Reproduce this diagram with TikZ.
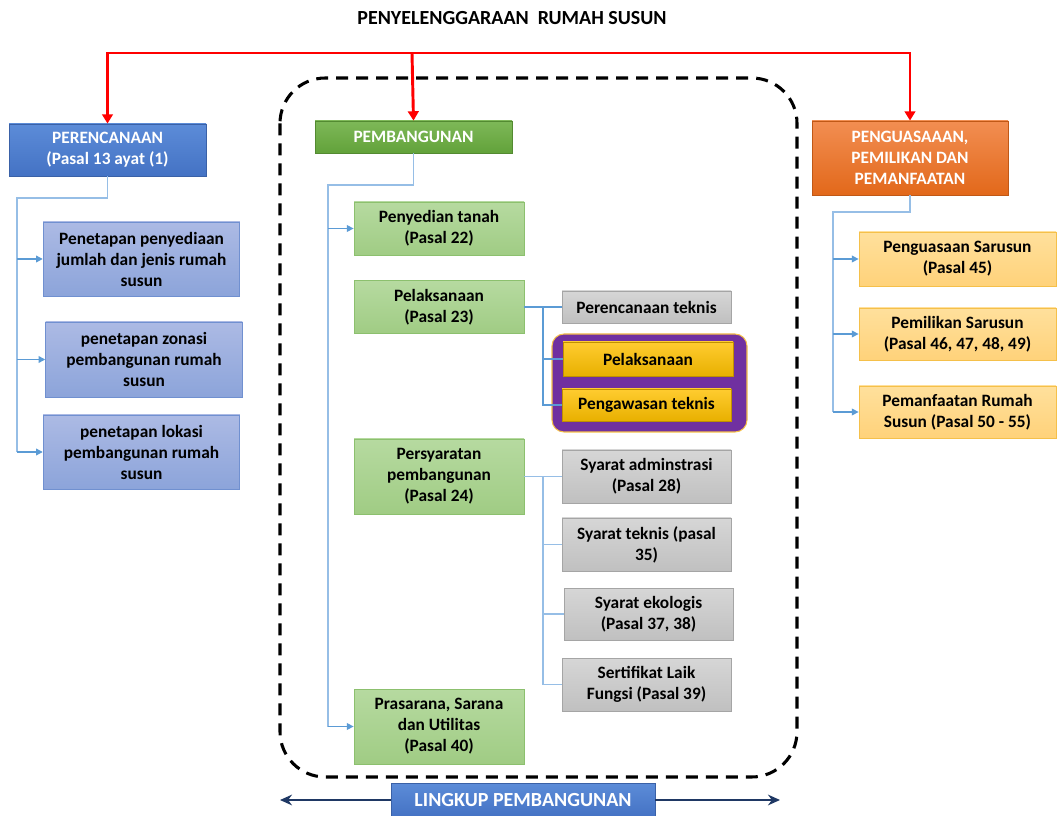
\documentclass[tikz,border=0pt]{standalone}
\usepackage{fontspec}
\setmainfont{Carlito}
\usepackage{tikz}
\usetikzlibrary{arrows.meta,positioning}
\definecolor{planBlue}{RGB}{68,114,196}
\definecolor{planBlueTop}{RGB}{92,140,216}
\definecolor{paleBlueTop}{RGB}{172,186,228}
\definecolor{paleBlueBot}{RGB}{140,164,218}
\definecolor{paleBlueLine}{RGB}{112,144,208}
\definecolor{buildGreen}{RGB}{98,162,58}
\definecolor{buildGreenTop}{RGB}{126,184,88}
\definecolor{softGreenTop}{RGB}{182,218,160}
\definecolor{softGreenBot}{RGB}{160,204,132}
\definecolor{softGreenLine}{RGB}{140,192,110}
\definecolor{greyTop}{RGB}{214,214,214}
\definecolor{greyBot}{RGB}{192,192,192}
\definecolor{greyLine}{RGB}{165,165,165}
\definecolor{goldTop}{RGB}{255,204,48}
\definecolor{goldBot}{RGB}{232,176,0}
\definecolor{goldLine}{RGB}{191,144,0}
\definecolor{boxPurple}{RGB}{112,48,160}
\definecolor{ownOrange}{RGB}{226,104,26}
\definecolor{ownOrangeTop}{RGB}{242,142,82}
\definecolor{peachTop}{RGB}{255,224,156}
\definecolor{peachBot}{RGB}{255,210,122}
\definecolor{peachLine}{RGB}{245,192,74}
\definecolor{treeBlue}{RGB}{91,155,213}
\definecolor{treeBlueLight}{RGB}{150,190,230}
\definecolor{scopeNavy}{RGB}{31,56,100}

\begin{document}
\begin{tikzpicture}[x=0.75pt,y=-0.75pt,
    font=\bfseries\fontsize{13}{15.75}\selectfont,
    box/.style={draw, align=center, inner sep=0pt, line width=0.6pt},
    headbox/.style={box, text=white, draw=#1!85!black},
    bluebox/.style={box, top color=paleBlueTop, bottom color=paleBlueBot, draw=paleBlueLine,
        minimum width=147.5pt},
    greenbox/.style={box, top color=softGreenTop, bottom color=softGreenBot, draw=softGreenLine,
        minimum width=127.5pt},
    greybox/.style={box, top color=greyTop, bottom color=greyBot, draw=greyLine,
        minimum width=126.75pt},
    goldbox/.style={box, top color=goldTop, bottom color=goldBot, draw=goldLine,
        minimum width=127.5pt},
    peachbox/.style={box, top color=peachTop, bottom color=peachBot, draw=peachLine,
        minimum width=147.75pt},
    redarrow/.style={red, line width=2.2pt, -{Triangle[width=8pt,length=7pt]}},
    tree/.style={treeBlueLight, line width=1pt},
    treearrow/.style={tree, -{Triangle[width=5pt,length=5pt]}, treeBlue},
    joint/.style={treeBlue, line width=2.2pt},
    scopearrow/.style={scopeNavy, line width=1.8pt, -{Stealth[width=8pt,length=9pt]}}]

    \useasboundingbox (0,0) rectangle (1061,816);

    % title
    \node[font=\bfseries\fontsize{15}{18}\selectfont] (title) at (512,18) {PENYELENGGARAAN~ RUMAH SUSUN};

    % scope of construction
    \draw[line width=2.3pt, dash pattern=on 9pt off 6pt, rounded corners=34pt]
        (280,78) rectangle (797,777);

    % three main headers
    \node[headbox=planBlue, top color=planBlueTop, bottom color=planBlue,
        minimum width=147.75pt, minimum height=39pt] (plan) at (107.5,150)
        {PERENCANAAN\\(Pasal 13 ayat (1)};
    \node[headbox=buildGreen, top color=buildGreenTop, bottom color=buildGreen,
        minimum width=147.75pt, minimum height=24pt] (bang) at (413.5,137) {PEMBANGUNAN};
    \node[headbox=ownOrange, top color=ownOrangeTop, bottom color=ownOrange,
        minimum width=147pt, minimum height=55.5pt] (kuasa) at (910,158)
        {PENGUASAAAN,\\PEMILIKAN DAN\\PEMANFAATAN};

    % red arrows
    \coordinate (top) at (412,53);
    \draw[redarrow] (top) -| (plan.north);
    \draw[redarrow] (top) -- (bang.north);
    \draw[redarrow] (top) -| (kuasa.north);

    % planning
    \node[bluebox, minimum height=55.5pt] (pb1) at (141.5,259)
        {Penetapan penyediaan\\jumlah dan jenis rumah\\susun};
    \node[bluebox, minimum height=56.25pt] (pb2) at (144,359.5)
        {penetapan zonasi\\pembangunan rumah\\susun};
    \node[bluebox, minimum height=55.5pt] (pb3) at (141.5,452)
        {penetapan lokasi\\pembangunan rumah\\susun};

    \coordinate (pl) at (17,198);
    \draw[tree] (plan.south) |- (pl) -- (pl |- pb3.west);
    \foreach \b in {pb1,pb2,pb3}
        \draw[treearrow] (pl |- \b.west) -- (\b.west);

    % construction
    \node[greenbox, minimum height=39.75pt] (tanah) at (439,228.5) {Penyedian tanah\\(Pasal 22)};
    \node[greenbox, minimum height=39.75pt] (laks) at (439,307) {Pelaksanaan\\(Pasal 23)};
    \node[greenbox, minimum height=56.25pt] (syarat) at (439,476.5)
        {Persyaratan\\pembangunan\\(Pasal 24)};
    \node[greenbox, minimum height=56.25pt] (pras) at (439,726.5)
        {Prasarana, Sarana\\dan Utilitas\\(Pasal 40)};

    \coordinate (bl) at (328,185);
    \draw[tree] (bang.south) |- (bl) -- (bl |- pras.west);
    \foreach \b in {tanah,pras}
        \draw[treearrow] (bl |- \b.west) -- (\b.west);

    % implementation
    \node[greybox, minimum height=24pt] (rtek) at (646.5,307) {Perencanaan teknis};
    \node[fill=boxPurple, draw=peachLine, line width=0.8pt, rounded corners=9pt,
        minimum width=146.25pt, minimum height=73.5pt] (ring) at (649.5,383) {};
    \node[goldbox, minimum height=25.5pt] (ylaks) at (648,359) {Pelaksanaan};
    \node[goldbox, minimum width=126.75pt, minimum height=24pt] (awas) at (646.5,405)
        {Pengawasan teknis};

    \coordinate (lj) at (543,307);
    \draw[joint] (laks.east) -- (rtek.west);
    \draw[joint] (lj) |- (awas.west);
    \draw[joint] (lj |- ylaks.west) -- (ylaks.west);

    % requirements
    \node[greybox, minimum height=39.75pt] (adm) at (646.5,476.5) {Syarat adminstrasi\\(Pasal 28)};
    \node[greybox, minimum height=39.75pt] (stek) at (646.5,544.5) {Syarat teknis (pasal\\35)};
    \node[greybox, minimum height=39pt] (ekol) at (648.5,614) {Syarat ekologis\\(Pasal 37, 38)};
    \node[greybox, minimum height=39.75pt] (slf) at (646.5,684.5) {Sertifikat Laik\\Fungsi (Pasal 39)};

    \coordinate (sj) at (543,476.5);
    \draw[tree] (syarat.east) -- (adm.west);
    \draw[tree] (sj) |- (slf.west);
    \foreach \b in {stek,ekol}
        \draw[tree] (sj |- \b.west) -- (\b.west);

    % ownership
    \node[peachbox, minimum height=40.5pt] (ok1) at (957.5,259) {Penguasaan Sarusun\\(Pasal 45)};
    \node[peachbox, minimum height=39pt] (ok2) at (957.5,334) {Pemilikan Sarusun\\(Pasal 46, 47, 48, 49)};
    \node[peachbox, minimum height=39pt] (ok3) at (957.5,412) {Pemanfaatan Rumah\\Susun (Pasal 50 - 55)};

    \coordinate (kl) at (833,212);
    \draw[tree] (kuasa.south) |- (kl) -- (kl |- ok3.west);
    \foreach \b in {ok1,ok2,ok3}
        \draw[treearrow] (kl |- \b.west) -- (\b.west);

    % scope label
    \node[headbox=planBlue, top color=planBlueTop, bottom color=planBlue,
        minimum width=198pt, minimum height=25pt, font=\bfseries\fontsize{15}{17}\selectfont]
        (lingkup) at (523,800) {LINGKUP PEMBANGUNAN};
    \coordinate (al) at (280,800);
    \coordinate (ar) at (780,800);
    \draw[scopearrow] (lingkup.west) -- (al);
    \draw[scopearrow] (lingkup.east) -- (ar);
\end{tikzpicture}
\end{document}
